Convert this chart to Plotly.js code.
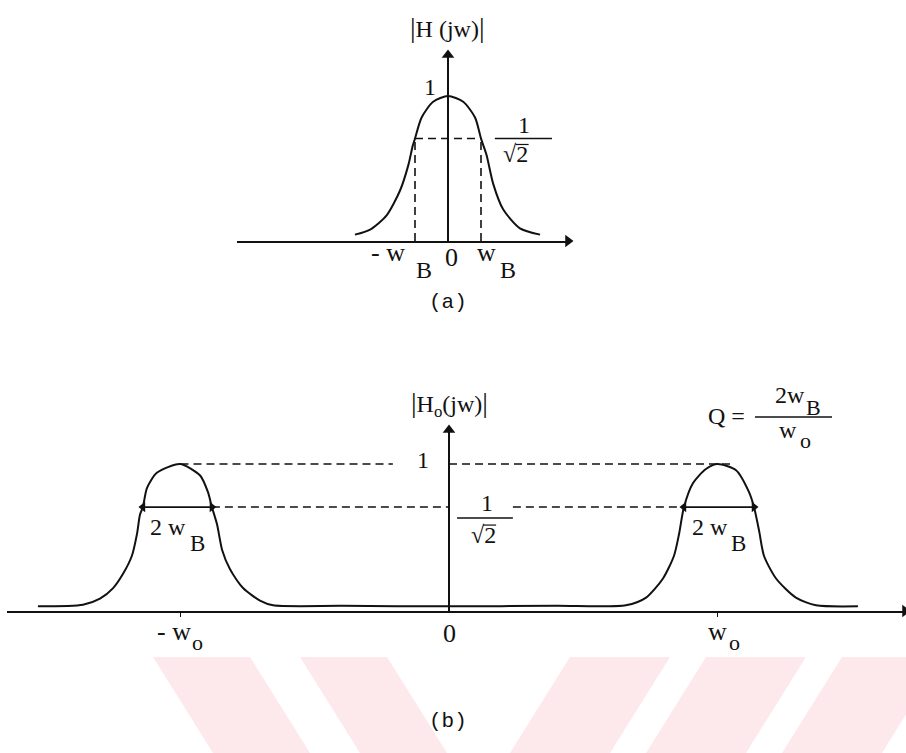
<!DOCTYPE html>
<html>
<head>
<meta charset="utf-8">
<script src="https://cdn.plot.ly/plotly-3.0.1.min.js"></script>
<style>
  html, body { margin: 0; padding: 0; background: #fff; }
  #chart { width: 906px; height: 753px; }
</style>
</head>
<body>
<div id="chart"></div>
<script>
// ---- data ---------------------------------------------------------------
// (a) low-pass magnitude |H(jw)|, frequency in units of wB
const lowpassW   = [-2.82, -2.36, -1.86, -1.45, -1.20, -1.07, -1.00, -0.80, -0.45, 0.00,
                     0.46,  0.82,  1.00,  1.17,  1.37,  1.67,  2.18,  2.79];
const lowpassMag = [0.044, 0.079, 0.177, 0.350, 0.525, 0.656, 0.707, 0.852, 0.960, 1.000,
                    0.960, 0.852, 0.707, 0.591, 0.394, 0.219, 0.087, 0.044];

// (b) band-pass magnitude |Ho(jw)|, frequency in units of wo
const bandpassW   = [-1.531, -1.363, -1.300, -1.251, -1.214, -1.181, -1.162, -1.151, -1.140, -1.125,
                     -1.088, -1.002, -0.927, -0.898, -0.883, -0.864, -0.845, -0.816, -0.767, -0.704,
                     -0.655, -0.400,  0.000,  0.400,  0.659,  0.734,  0.797,  0.838,  0.857,  0.875,
                      0.909,  0.957,  1.000,  1.069,  1.117,  1.136,  1.155,  1.173,  1.218,  1.292,
                      1.367,  1.523];
const bandpassMag = [0.032, 0.043, 0.084, 0.156, 0.253, 0.376, 0.525, 0.655, 0.707, 0.836,
                     0.940, 1.000, 0.922, 0.810, 0.707, 0.590, 0.415, 0.285, 0.156, 0.071,
                     0.039, 0.035, 0.032, 0.035, 0.039, 0.091, 0.221, 0.376, 0.525, 0.707,
                     0.871, 0.966, 1.000, 0.957, 0.810, 0.707, 0.545, 0.376, 0.221, 0.091,
                     0.039, 0.032];

const peakLevel = 1;          // "1"
const halfPower = 0.707;      // "1/√2"
const lowpassEdges = [-1, 1];                       // -wB, wB
const bandEdgesLow  = [-1.140, -0.883];             // 2wB around -wo
const bandEdgesHigh = [ 0.875,  1.136];             // 2wB around  wo
const bandCentres   = [-1, 1];                      // -wo, wo

// tick labels (main glyphs + subscripts)
const lowpassTickVals = [-1, 0, 1];
const lowpassTickMain = ['- w', '0', 'w'];
const lowpassTickSub  = ['B', '', 'B'];
const bandTickVals = [-1, 0, 1];
const bandTickMain = ['- w', '0', 'w'];
const bandTickSub  = ['o', '', 'o'];

// ---- geometry -------------------------------------------------------------
const W = 906, H = 753;
const fx = px => px / W;
const fy = py => 1 - py / H;

// pixel frames of the two panels
const PA = { left: 237, right: 568, top: 55,  bottom: 241, zeroX: 448, unitX: 33,    unitY: 145 };
const PB = { left: 7,   right: 905, top: 430, bottom: 611, zeroX: 449, unitX: 268.5, unitY: 147 };

function axisPair(p) {
  return {
    xdomain: [fx(p.left), fx(p.right)],
    xrange:  [(p.left - p.zeroX) / p.unitX, (p.right - p.zeroX) / p.unitX],
    ydomain: [fy(p.bottom), fy(p.top)],
    yrange:  [0, (p.bottom - p.top) / p.unitY]
  };
}
const GA = axisPair(PA), GB = axisPair(PB);

const INK = '#111';
const SERIF = '"Liberation Serif", "Times New Roman", serif';
const MONO = '"Liberation Mono", "Courier New", monospace';
const DASH = '8px,5px';

// ---- traces ---------------------------------------------------------------
const curveLine = { color: INK, width: 2, shape: 'spline', smoothing: 0.7 };
const dashLine  = { color: INK, width: 1.6, dash: DASH };

const traces = [
  // (a)
  { x: lowpassW, y: lowpassMag, xaxis: 'x', yaxis: 'y', mode: 'lines', line: curveLine },
  { x: [lowpassEdges[0], lowpassEdges[1]], y: [halfPower, halfPower],
    xaxis: 'x', yaxis: 'y', mode: 'lines', line: dashLine },
  { x: [lowpassEdges[0], lowpassEdges[0], null, lowpassEdges[1], lowpassEdges[1]],
    y: [0, halfPower, null, 0, halfPower],
    xaxis: 'x', yaxis: 'y', mode: 'lines', line: dashLine },
  { x: [GA.xrange[1], 0], y: [0, GA.yrange[1]], xaxis: 'x', yaxis: 'y', mode: 'markers',
    marker: { symbol: ['triangle-right', 'triangle-up'], size: 11, color: INK }, cliponaxis: false },

  // (b)
  { x: bandpassW, y: bandpassMag, xaxis: 'x2', yaxis: 'y2', mode: 'lines', line: curveLine },
  { x: [bandCentres[0], -0.209, null, 0, 1.058], y: [peakLevel, peakLevel, null, peakLevel, peakLevel],
    xaxis: 'x2', yaxis: 'y2', mode: 'lines', line: dashLine },
  { x: [bandEdgesLow[1], 0, null, 0.238, bandEdgesHigh[0]], y: [halfPower, halfPower, null, halfPower, halfPower],
    xaxis: 'x2', yaxis: 'y2', mode: 'lines', line: dashLine },
  { x: bandEdgesLow, y: [halfPower, halfPower], xaxis: 'x2', yaxis: 'y2', mode: 'lines+markers',
    line: { color: INK, width: 1.8 },
    marker: { symbol: ['triangle-left', 'triangle-right'], size: 9, color: INK }, cliponaxis: false },
  { x: bandEdgesHigh, y: [halfPower, halfPower], xaxis: 'x2', yaxis: 'y2', mode: 'lines+markers',
    line: { color: INK, width: 1.8 },
    marker: { symbol: ['triangle-left', 'triangle-right'], size: 9, color: INK }, cliponaxis: false },
  { x: [GB.xrange[1], 0], y: [0, GB.yrange[1]], xaxis: 'x2', yaxis: 'y2', mode: 'markers',
    marker: { symbol: ['triangle-right', 'triangle-up'], size: 11, color: INK }, cliponaxis: false }
];

// ---- text -----------------------------------------------------------------
const ann = [];
function paperText(xpx, ypx, text, size, extra) {
  ann.push(Object.assign({ xref: 'paper', yref: 'paper', x: fx(xpx), y: fy(ypx), text: text,
    showarrow: false, xanchor: 'center', yanchor: 'middle',
    font: { family: SERIF, size: size || 24, color: INK } }, extra || {}));
}
function dataText(xa, ya, x, y, text, size, extra) {
  ann.push(Object.assign({ xref: xa, yref: ya, x: x, y: y, text: text,
    showarrow: false, xanchor: 'center', yanchor: 'middle',
    font: { family: SERIF, size: size || 24, color: INK } }, extra || {}));
}
const bar = s => '<span style="font-size:28px">' + s + '</span>';

// (a)
paperText(447, 28, bar('|') + 'H (jw)' + bar('|'), 24);
dataText('x', 'y', -0.55, peakLevel, '1', 24, { yshift: 9 });
dataText('x', 'y', 2.3, halfPower, '1', 24, { yshift: 13 });
dataText('x', 'y', 2.05, halfPower, '√2', 24, { yshift: -16 });
lowpassTickVals.forEach((v, i) => {
  const mainOpts = i === 0 ? { xanchor: 'right', xshift: -8 } : i === 2 ? { xshift: 5 } : { xshift: 3 };
  dataText('x', 'paper', v, fy(i === 1 ? 258 : 253), lowpassTickMain[i], 26, mainOpts);
  if (lowpassTickSub[i]) {
    dataText('x', 'paper', v, fy(270), lowpassTickSub[i], 24, { xshift: i === 0 ? 9 : 27 });
  }
});
paperText(448, 302, '(a)', 21, { font: { family: MONO, size: 21, color: INK } });

// (b)
paperText(449, 404, bar('|') + 'H<sub>o</sub>(jw)' + bar('|'), 24);
dataText('x2', 'y2', -0.097, peakLevel, '1', 24, { yshift: 4 });
dataText('x2', 'y2', 0.1415, halfPower, '1', 24, { yshift: 4 });
dataText('x2', 'y2', 0.127, halfPower, '√2', 24, { yshift: -28 });
[bandEdgesLow, bandEdgesHigh].forEach(e => {
  const c = (e[0] + e[1]) / 2;
  dataText('x2', 'y2', c, halfPower, '2 w', 24, { xshift: -9, yshift: -20 });
  dataText('x2', 'y2', c, halfPower, 'B', 23, { xshift: 20, yshift: -36 });
});
bandTickVals.forEach((v, i) => {
  const mainOpts = i === 0 ? { xanchor: 'right', xshift: 12 } : {};
  dataText('x2', 'paper', v, fy(i === 1 ? 633 : 631), bandTickMain[i], 26, mainOpts);
  if (bandTickSub[i]) dataText('x2', 'paper', v, fy(642), bandTickSub[i], 22, { xshift: 17 });
});
paperText(448, 721, '(b)', 21, { font: { family: MONO, size: 21, color: INK } });

// quality factor
paperText(726, 416, 'Q =', 24);
paperText(790, 395, '2w', 24);
paperText(813, 407, 'B', 22);
paperText(788, 430, 'w', 24);
paperText(805, 440, 'o', 22);

// ---- shapes ----------------------------------------------------------------
const shapes = [];
const thin = { color: INK, width: 1.5 };
// fraction bars
shapes.push({ type: 'line', xref: 'x', yref: 'y', x0: 1.42, x1: 3.15, y0: halfPower, y1: halfPower, line: thin });
shapes.push({ type: 'line', xref: 'x2', yref: 'y2', ysizemode: 'pixel', yanchor: halfPower,
  x0: 0.030, x1: 0.238, y0: -11, y1: -11, line: thin });
shapes.push({ type: 'line', xref: 'paper', yref: 'paper', x0: fx(755), x1: fx(832), y0: fy(417), y1: fy(417), line: thin });
// radical overbars on the √2 labels
shapes.push({ type: 'line', xref: 'x', yref: 'y', xsizemode: 'pixel', ysizemode: 'pixel',
  xanchor: 2.05, yanchor: halfPower, x0: 0, x1: 13, y0: -6, y1: -6, line: { color: INK, width: 1.2 } });
shapes.push({ type: 'line', xref: 'x2', yref: 'y2', xsizemode: 'pixel', ysizemode: 'pixel',
  xanchor: 0.127, yanchor: halfPower, x0: 0, x1: 13, y0: -18, y1: -18, line: { color: INK, width: 1.2 } });

// faint diagonal band pattern behind the lower caption
const bandTop = 657, bandBottom = 753, lean = 60;
const bands = [
  { l: 153, r: 250, d:  1 }, { l: 300, r: 387, d:  1 },
  { l: 570, r: 670, d: -1 }, { l: 706, r: 806, d: -1 }, { l: 842, r: 942, d: -1 }
];
bands.forEach(b => {
  const s = b.d * lean;
  shapes.push({
    type: 'path', xref: 'paper', yref: 'paper', layer: 'below', line: { width: 0 },
    fillcolor: 'rgb(253,233,236)',
    path: `M ${fx(b.l)} ${fy(bandTop)} L ${fx(b.r)} ${fy(bandTop)} L ${fx(b.r + s)} ${fy(bandBottom)} L ${fx(b.l + s)} ${fy(bandBottom)} Z`
  });
});

// ---- axes ------------------------------------------------------------------
function xAxis(g, anchor, ticks) {
  return {
    domain: g.xdomain, range: g.xrange, anchor: anchor,
    showgrid: false, showticklabels: false,
    zeroline: true, zerolinecolor: INK, zerolinewidth: 2,
    showline: true, linecolor: INK, linewidth: 2,
    tickmode: 'array', tickvals: ticks.vals, ticks: ticks.len ? 'outside' : '',
    ticklen: ticks.len || 0, tickwidth: 1.5, tickcolor: INK, fixedrange: true
  };
}
function yAxis(g, anchor) {
  return {
    domain: g.ydomain, range: g.yrange, anchor: anchor,
    showgrid: false, showticklabels: false, zeroline: false, showline: false,
    ticks: '', fixedrange: true
  };
}

const layout = {
  width: W, height: H,
  margin: { l: 0, r: 0, t: 0, b: 0 },
  paper_bgcolor: '#fff', plot_bgcolor: 'rgba(0,0,0,0)',
  showlegend: false,
  xaxis:  xAxis(GA, 'y',  { vals: lowpassTickVals, len: 0 }),
  yaxis:  yAxis(GA, 'x'),
  xaxis2: xAxis(GB, 'y2', { vals: bandCentres, len: 4 }),
  yaxis2: yAxis(GB, 'x2'),
  annotations: ann,
  shapes: shapes
};

Plotly.newPlot('chart', traces, layout, { staticPlot: true, displayModeBar: false });
</script>
</body>
</html>
